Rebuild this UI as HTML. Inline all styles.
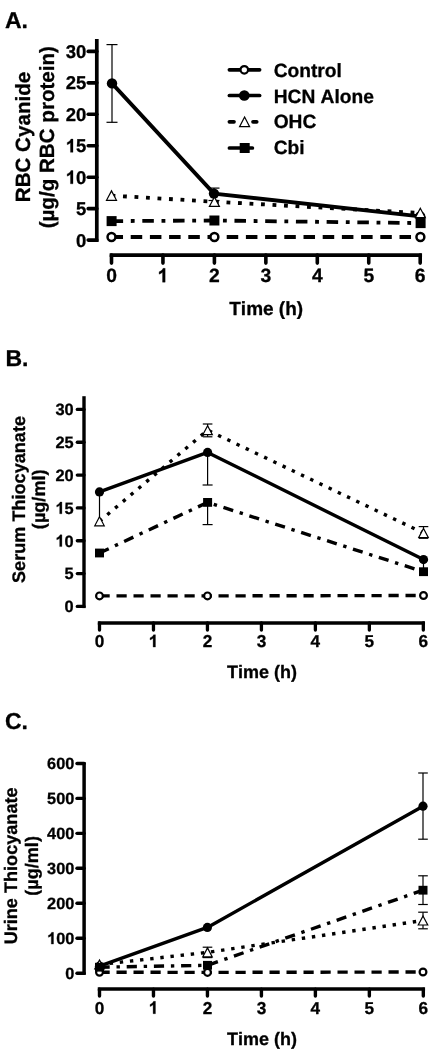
<!DOCTYPE html>
<html><head><meta charset="utf-8"><title>Figure</title>
<style>html,body{margin:0;padding:0;background:#fff;}svg{display:block;will-change:transform;}text{font-family:'Liberation Sans', sans-serif;font-weight:bold;fill:#000;stroke:#000;stroke-width:0.3px;stroke-linejoin:round;font-kerning:none;text-rendering:geometricPrecision;}</style>
</head><body>
<svg width="444" height="1050" viewBox="0 0 444 1050">
<defs><filter id="soft" filterUnits="userSpaceOnUse" x="0" y="0" width="444" height="1050" color-interpolation-filters="sRGB"><feGaussianBlur stdDeviation="0.37"/></filter></defs>
<rect x="0" y="0" width="444" height="1050" fill="#fff"/>
<g filter="url(#soft)">
<!-- Panel A -->
<line x1="96.80" y1="39.00" x2="96.80" y2="242.00" stroke="#000" stroke-width="3.7"/>
<line x1="88.20" y1="240.10" x2="96.80" y2="240.10" stroke="#000" stroke-width="3.6" stroke-linecap="round"/>
<text x="76.01" y="246.72" font-size="18.5">0</text>
<line x1="88.20" y1="208.65" x2="96.80" y2="208.65" stroke="#000" stroke-width="3.6" stroke-linecap="round"/>
<text x="76.01" y="215.27" font-size="18.5">5</text>
<line x1="88.20" y1="177.20" x2="96.80" y2="177.20" stroke="#000" stroke-width="3.6" stroke-linecap="round"/>
<path d="M806 0H525V1059Q371 915 162 846V1101Q272 1137 401 1237.5Q530 1338 578 1472H806Z" transform="translate(65.72 183.82) scale(0.00903 -0.00903)" fill="#000" stroke="#000" stroke-width="33.2" stroke-linejoin="round"/>
<text x="76.01" y="183.82" font-size="18.5">0</text>
<line x1="88.20" y1="145.75" x2="96.80" y2="145.75" stroke="#000" stroke-width="3.6" stroke-linecap="round"/>
<path d="M806 0H525V1059Q371 915 162 846V1101Q272 1137 401 1237.5Q530 1338 578 1472H806Z" transform="translate(65.72 152.37) scale(0.00903 -0.00903)" fill="#000" stroke="#000" stroke-width="33.2" stroke-linejoin="round"/>
<text x="76.01" y="152.37" font-size="18.5">5</text>
<line x1="88.20" y1="114.30" x2="96.80" y2="114.30" stroke="#000" stroke-width="3.6" stroke-linecap="round"/>
<text x="65.72" y="120.92" font-size="18.5">2</text>
<text x="76.01" y="120.92" font-size="18.5">0</text>
<line x1="88.20" y1="82.85" x2="96.80" y2="82.85" stroke="#000" stroke-width="3.6" stroke-linecap="round"/>
<text x="65.72" y="89.47" font-size="18.5">2</text>
<text x="76.01" y="89.47" font-size="18.5">5</text>
<line x1="88.20" y1="51.40" x2="96.80" y2="51.40" stroke="#000" stroke-width="3.6" stroke-linecap="round"/>
<text x="65.72" y="58.02" font-size="18.5">3</text>
<text x="76.01" y="58.02" font-size="18.5">0</text>
<line x1="109.65" y1="255.10" x2="422.05" y2="255.10" stroke="#000" stroke-width="3.7"/>
<line x1="111.50" y1="255.10" x2="111.50" y2="263.10" stroke="#000" stroke-width="3.6" stroke-linecap="round"/>
<text x="106.13" y="282.20" font-size="19.3">0</text>
<line x1="162.95" y1="255.10" x2="162.95" y2="263.10" stroke="#000" stroke-width="3.6" stroke-linecap="round"/>
<path d="M806 0H525V1059Q371 915 162 846V1101Q272 1137 401 1237.5Q530 1338 578 1472H806Z" transform="translate(157.58 282.20) scale(0.00942 -0.00942)" fill="#000" stroke="#000" stroke-width="31.8" stroke-linejoin="round"/>
<line x1="214.40" y1="255.10" x2="214.40" y2="263.10" stroke="#000" stroke-width="3.6" stroke-linecap="round"/>
<text x="209.03" y="282.20" font-size="19.3">2</text>
<line x1="265.85" y1="255.10" x2="265.85" y2="263.10" stroke="#000" stroke-width="3.6" stroke-linecap="round"/>
<text x="260.48" y="282.20" font-size="19.3">3</text>
<line x1="317.30" y1="255.10" x2="317.30" y2="263.10" stroke="#000" stroke-width="3.6" stroke-linecap="round"/>
<text x="311.93" y="282.20" font-size="19.3">4</text>
<line x1="368.75" y1="255.10" x2="368.75" y2="263.10" stroke="#000" stroke-width="3.6" stroke-linecap="round"/>
<text x="363.38" y="282.20" font-size="19.3">5</text>
<line x1="420.20" y1="255.10" x2="420.20" y2="263.10" stroke="#000" stroke-width="3.6" stroke-linecap="round"/>
<text x="414.83" y="282.20" font-size="19.3">6</text>
<text x="266.20" y="314.80" font-size="19" text-anchor="middle">Time (h)</text>
<text x="29.60" y="137.00" font-size="20.6" text-anchor="middle" transform="rotate(-90 29.60 137.00)">RBC Cyanide</text>
<text x="54.00" y="137.20" font-size="20.6" text-anchor="middle" transform="rotate(-90 54.00 137.20)">(µg/g RBC protein)</text>
<text x="4.90" y="27.80" font-size="23" text-anchor="start">A.</text>
<polyline points="111.50,237.00 214.40,237.00 420.40,237.00" fill="none" stroke="#000" stroke-width="3.8" stroke-linejoin="round" stroke-dasharray="11.52 7.68"/>
<circle cx="111.50" cy="237.00" r="3.95" fill="#fff" stroke="#000" stroke-width="2.5"/>
<circle cx="214.40" cy="237.00" r="3.95" fill="#fff" stroke="#000" stroke-width="2.5"/>
<circle cx="420.40" cy="237.00" r="3.95" fill="#fff" stroke="#000" stroke-width="2.5"/>
<polyline points="112.00,83.40 214.00,193.60 420.20,216.40" fill="none" stroke="#000" stroke-width="3.8" stroke-linejoin="round"/>
<line x1="112.00" y1="44.60" x2="112.00" y2="122.30" stroke="#000" stroke-width="1.2"/>
<line x1="106.50" y1="44.60" x2="117.50" y2="44.60" stroke="#000" stroke-width="1.2"/>
<line x1="106.50" y1="122.30" x2="117.50" y2="122.30" stroke="#000" stroke-width="1.2"/>
<line x1="214.00" y1="188.10" x2="214.00" y2="200.50" stroke="#000" stroke-width="1.2"/>
<line x1="208.50" y1="188.10" x2="219.50" y2="188.10" stroke="#000" stroke-width="1.2"/>
<line x1="208.50" y1="200.50" x2="219.50" y2="200.50" stroke="#000" stroke-width="1.2"/>
<circle cx="112.00" cy="83.40" r="5.2" fill="#000"/>
<circle cx="214.00" cy="193.60" r="5.2" fill="#000"/>
<circle cx="420.20" cy="216.40" r="5.2" fill="#000"/>
<polyline points="111.50,195.60 214.40,201.70 420.30,213.00" fill="none" stroke="#000" stroke-width="3.8" stroke-linejoin="round" stroke-dasharray="3.84 7.68"/>
<polygon points="111.50,190.90 106.50,200.30 116.50,200.30" fill="#fff" stroke="#000" stroke-width="1.2" stroke-linejoin="miter"/>
<polygon points="214.40,197.00 209.40,206.40 219.40,206.40" fill="#fff" stroke="#000" stroke-width="1.2" stroke-linejoin="miter"/>
<polygon points="420.30,208.30 415.30,217.70 425.30,217.70" fill="#fff" stroke="#000" stroke-width="1.2" stroke-linejoin="miter"/>
<polyline points="111.60,221.10 214.40,220.50 420.60,223.10" fill="none" stroke="#000" stroke-width="3.8" stroke-linejoin="round" stroke-dasharray="11.52 7.68 3.84 7.68"/>
<rect x="106.60" y="216.10" width="10" height="10" fill="#000"/>
<rect x="209.40" y="215.50" width="10" height="10" fill="#000"/>
<rect x="415.60" y="218.10" width="10" height="10" fill="#000"/>
<!-- Legend -->
<line x1="229.40" y1="69.80" x2="259.60" y2="69.80" stroke="#000" stroke-width="3.7" stroke-linecap="round"/>
<circle cx="244.30" cy="69.80" r="3.75" fill="#fff" stroke="#000" stroke-width="2.2"/>
<line x1="229.40" y1="95.50" x2="259.60" y2="95.50" stroke="#000" stroke-width="3.7" stroke-linecap="round"/>
<circle cx="244.30" cy="95.50" r="5.3" fill="#000"/>
<line x1="229.40" y1="121.80" x2="234.00" y2="121.80" stroke="#000" stroke-width="3.7" stroke-linecap="round"/>
<line x1="253.00" y1="121.80" x2="256.70" y2="121.80" stroke="#000" stroke-width="3.7" stroke-linecap="round"/>
<polygon points="244.60,117.00 239.60,126.60 249.60,126.60" fill="#fff" stroke="#000" stroke-width="1.2" stroke-linejoin="miter"/>
<line x1="229.40" y1="148.00" x2="252.40" y2="148.00" stroke="#000" stroke-width="3.7" stroke-linecap="round"/>
<rect x="239.70" y="143.00" width="10" height="10" fill="#000"/>
<text x="273.70" y="77.00" font-size="19.2" text-anchor="start">Control</text>
<text x="273.70" y="102.67" font-size="19.2" text-anchor="start">HCN Alone</text>
<text x="273.70" y="128.34" font-size="19.2" text-anchor="start">OHC</text>
<text x="273.70" y="154.01" font-size="19.2" text-anchor="start">Cbi</text>
<!-- Panel B -->
<line x1="84.00" y1="396.20" x2="84.00" y2="608.10" stroke="#000" stroke-width="3.4"/>
<line x1="77.30" y1="606.40" x2="84.00" y2="606.40" stroke="#000" stroke-width="3.3" stroke-linecap="round"/>
<text x="64.58" y="612.27" font-size="16.4">0</text>
<line x1="77.30" y1="573.57" x2="84.00" y2="573.57" stroke="#000" stroke-width="3.3" stroke-linecap="round"/>
<text x="64.58" y="579.45" font-size="16.4">5</text>
<line x1="77.30" y1="540.75" x2="84.00" y2="540.75" stroke="#000" stroke-width="3.3" stroke-linecap="round"/>
<path d="M806 0H525V1059Q371 915 162 846V1101Q272 1137 401 1237.5Q530 1338 578 1472H806Z" transform="translate(55.46 546.62) scale(0.00801 -0.00801)" fill="#000" stroke="#000" stroke-width="37.5" stroke-linejoin="round"/>
<text x="64.58" y="546.62" font-size="16.4">0</text>
<line x1="77.30" y1="507.92" x2="84.00" y2="507.92" stroke="#000" stroke-width="3.3" stroke-linecap="round"/>
<path d="M806 0H525V1059Q371 915 162 846V1101Q272 1137 401 1237.5Q530 1338 578 1472H806Z" transform="translate(55.46 513.80) scale(0.00801 -0.00801)" fill="#000" stroke="#000" stroke-width="37.5" stroke-linejoin="round"/>
<text x="64.58" y="513.80" font-size="16.4">5</text>
<line x1="77.30" y1="475.10" x2="84.00" y2="475.10" stroke="#000" stroke-width="3.3" stroke-linecap="round"/>
<text x="55.46" y="480.97" font-size="16.4">2</text>
<text x="64.58" y="480.97" font-size="16.4">0</text>
<line x1="77.30" y1="442.27" x2="84.00" y2="442.27" stroke="#000" stroke-width="3.3" stroke-linecap="round"/>
<text x="55.46" y="448.15" font-size="16.4">2</text>
<text x="64.58" y="448.15" font-size="16.4">5</text>
<line x1="77.30" y1="409.45" x2="84.00" y2="409.45" stroke="#000" stroke-width="3.3" stroke-linecap="round"/>
<text x="55.46" y="415.32" font-size="16.4">3</text>
<text x="64.58" y="415.32" font-size="16.4">0</text>
<line x1="97.80" y1="623.00" x2="425.02" y2="623.00" stroke="#000" stroke-width="3.4"/>
<line x1="99.50" y1="623.00" x2="99.50" y2="630.00" stroke="#000" stroke-width="3.3" stroke-linecap="round"/>
<text x="94.72" y="647.10" font-size="17.2">0</text>
<line x1="153.47" y1="623.00" x2="153.47" y2="630.00" stroke="#000" stroke-width="3.3" stroke-linecap="round"/>
<path d="M806 0H525V1059Q371 915 162 846V1101Q272 1137 401 1237.5Q530 1338 578 1472H806Z" transform="translate(148.69 647.10) scale(0.00840 -0.00840)" fill="#000" stroke="#000" stroke-width="35.7" stroke-linejoin="round"/>
<line x1="207.44" y1="623.00" x2="207.44" y2="630.00" stroke="#000" stroke-width="3.3" stroke-linecap="round"/>
<text x="202.66" y="647.10" font-size="17.2">2</text>
<line x1="261.41" y1="623.00" x2="261.41" y2="630.00" stroke="#000" stroke-width="3.3" stroke-linecap="round"/>
<text x="256.63" y="647.10" font-size="17.2">3</text>
<line x1="315.38" y1="623.00" x2="315.38" y2="630.00" stroke="#000" stroke-width="3.3" stroke-linecap="round"/>
<text x="310.60" y="647.10" font-size="17.2">4</text>
<line x1="369.35" y1="623.00" x2="369.35" y2="630.00" stroke="#000" stroke-width="3.3" stroke-linecap="round"/>
<text x="364.57" y="647.10" font-size="17.2">5</text>
<line x1="423.32" y1="623.00" x2="423.32" y2="630.00" stroke="#000" stroke-width="3.3" stroke-linecap="round"/>
<text x="418.54" y="647.10" font-size="17.2">6</text>
<text x="262.10" y="677.70" font-size="18" text-anchor="middle">Time (h)</text>
<text x="24.50" y="499.50" font-size="18.1" text-anchor="middle" transform="rotate(-90 24.50 499.50)">Serum Thiocyanate</text>
<text x="45.20" y="499.30" font-size="18.1" text-anchor="middle" transform="rotate(-90 45.20 499.30)">(µg/ml)</text>
<text x="5.40" y="366.20" font-size="23" text-anchor="start">B.</text>
<polyline points="99.50,595.90 207.50,595.90 423.50,595.50" fill="none" stroke="#000" stroke-width="3.4" stroke-linejoin="round" stroke-dasharray="10.20 6.80"/>
<circle cx="99.50" cy="595.90" r="3.4" fill="#fff" stroke="#000" stroke-width="2.2"/>
<circle cx="207.50" cy="595.90" r="3.4" fill="#fff" stroke="#000" stroke-width="2.2"/>
<circle cx="423.50" cy="595.50" r="3.4" fill="#fff" stroke="#000" stroke-width="2.2"/>
<polyline points="99.50,491.90 207.60,452.40 423.50,559.60" fill="none" stroke="#000" stroke-width="3.4" stroke-linejoin="round"/>
<line x1="207.60" y1="452.00" x2="207.60" y2="485.00" stroke="#000" stroke-width="1.2"/>
<line x1="202.60" y1="485.00" x2="212.60" y2="485.00" stroke="#000" stroke-width="1.2"/>
<circle cx="99.50" cy="491.90" r="4.6" fill="#000"/>
<circle cx="207.60" cy="452.40" r="4.6" fill="#000"/>
<circle cx="423.50" cy="559.60" r="4.6" fill="#000"/>
<polyline points="99.50,521.30 207.60,430.20 423.50,533.00" fill="none" stroke="#000" stroke-width="3.4" stroke-linejoin="round" stroke-dasharray="3.40 6.80"/>
<line x1="99.50" y1="492.00" x2="99.50" y2="521.00" stroke="#000" stroke-width="1.2"/>
<line x1="207.60" y1="424.00" x2="207.60" y2="436.80" stroke="#000" stroke-width="1.2"/>
<line x1="202.80" y1="424.00" x2="212.40" y2="424.00" stroke="#000" stroke-width="1.2"/>
<line x1="202.80" y1="436.80" x2="212.40" y2="436.80" stroke="#000" stroke-width="1.2"/>
<line x1="423.50" y1="526.60" x2="423.50" y2="538.30" stroke="#000" stroke-width="1.2"/>
<line x1="418.70" y1="526.60" x2="428.30" y2="526.60" stroke="#000" stroke-width="1.2"/>
<line x1="418.70" y1="538.30" x2="428.30" y2="538.30" stroke="#000" stroke-width="1.2"/>
<polygon points="99.50,516.80 94.75,525.80 104.25,525.80" fill="#fff" stroke="#000" stroke-width="1.2" stroke-linejoin="miter"/>
<polygon points="207.60,425.70 202.85,434.70 212.35,434.70" fill="#fff" stroke="#000" stroke-width="1.2" stroke-linejoin="miter"/>
<polygon points="423.50,528.50 418.75,537.50 428.25,537.50" fill="#fff" stroke="#000" stroke-width="1.2" stroke-linejoin="miter"/>
<polyline points="99.50,553.00 207.60,502.40 423.50,571.70" fill="none" stroke="#000" stroke-width="3.4" stroke-linejoin="round" stroke-dasharray="10.20 6.80 3.40 6.80"/>
<line x1="207.60" y1="502.00" x2="207.60" y2="524.60" stroke="#000" stroke-width="1.2"/>
<line x1="202.60" y1="524.60" x2="212.60" y2="524.60" stroke="#000" stroke-width="1.2"/>
<line x1="423.50" y1="560.50" x2="423.50" y2="571.00" stroke="#000" stroke-width="1.2"/>
<line x1="419.00" y1="560.50" x2="428.00" y2="560.50" stroke="#000" stroke-width="1.2"/>
<rect x="95.00" y="548.60" width="9" height="8.8" fill="#000"/>
<rect x="203.10" y="498.00" width="9" height="8.8" fill="#000"/>
<rect x="419.00" y="567.30" width="9" height="8.8" fill="#000"/>
<!-- Panel C -->
<line x1="84.10" y1="762.30" x2="84.10" y2="974.90" stroke="#000" stroke-width="3.5"/>
<line x1="77.00" y1="973.20" x2="84.10" y2="973.20" stroke="#000" stroke-width="3.4" stroke-linecap="round"/>
<text x="65.23" y="979.04" font-size="16.3">0</text>
<line x1="77.00" y1="938.24" x2="84.10" y2="938.24" stroke="#000" stroke-width="3.4" stroke-linecap="round"/>
<path d="M806 0H525V1059Q371 915 162 846V1101Q272 1137 401 1237.5Q530 1338 578 1472H806Z" transform="translate(47.10 944.08) scale(0.00796 -0.00796)" fill="#000" stroke="#000" stroke-width="37.7" stroke-linejoin="round"/>
<text x="56.17" y="944.08" font-size="16.3">0</text>
<text x="65.23" y="944.08" font-size="16.3">0</text>
<line x1="77.00" y1="903.28" x2="84.10" y2="903.28" stroke="#000" stroke-width="3.4" stroke-linecap="round"/>
<text x="47.10" y="909.12" font-size="16.3">2</text>
<text x="56.17" y="909.12" font-size="16.3">0</text>
<text x="65.23" y="909.12" font-size="16.3">0</text>
<line x1="77.00" y1="868.32" x2="84.10" y2="868.32" stroke="#000" stroke-width="3.4" stroke-linecap="round"/>
<text x="47.10" y="874.16" font-size="16.3">3</text>
<text x="56.17" y="874.16" font-size="16.3">0</text>
<text x="65.23" y="874.16" font-size="16.3">0</text>
<line x1="77.00" y1="833.36" x2="84.10" y2="833.36" stroke="#000" stroke-width="3.4" stroke-linecap="round"/>
<text x="47.10" y="839.20" font-size="16.3">4</text>
<text x="56.17" y="839.20" font-size="16.3">0</text>
<text x="65.23" y="839.20" font-size="16.3">0</text>
<line x1="77.00" y1="798.40" x2="84.10" y2="798.40" stroke="#000" stroke-width="3.4" stroke-linecap="round"/>
<text x="47.10" y="804.24" font-size="16.3">5</text>
<text x="56.17" y="804.24" font-size="16.3">0</text>
<text x="65.23" y="804.24" font-size="16.3">0</text>
<line x1="77.00" y1="763.44" x2="84.10" y2="763.44" stroke="#000" stroke-width="3.4" stroke-linecap="round"/>
<text x="47.10" y="769.28" font-size="16.3">6</text>
<text x="56.17" y="769.28" font-size="16.3">0</text>
<text x="65.23" y="769.28" font-size="16.3">0</text>
<line x1="97.75" y1="989.10" x2="425.07" y2="989.10" stroke="#000" stroke-width="3.5"/>
<line x1="99.50" y1="989.10" x2="99.50" y2="996.10" stroke="#000" stroke-width="3.4" stroke-linecap="round"/>
<text x="94.72" y="1013.70" font-size="17.2">0</text>
<line x1="153.47" y1="989.10" x2="153.47" y2="996.10" stroke="#000" stroke-width="3.4" stroke-linecap="round"/>
<path d="M806 0H525V1059Q371 915 162 846V1101Q272 1137 401 1237.5Q530 1338 578 1472H806Z" transform="translate(148.69 1013.70) scale(0.00840 -0.00840)" fill="#000" stroke="#000" stroke-width="35.7" stroke-linejoin="round"/>
<line x1="207.44" y1="989.10" x2="207.44" y2="996.10" stroke="#000" stroke-width="3.4" stroke-linecap="round"/>
<text x="202.66" y="1013.70" font-size="17.2">2</text>
<line x1="261.41" y1="989.10" x2="261.41" y2="996.10" stroke="#000" stroke-width="3.4" stroke-linecap="round"/>
<text x="256.63" y="1013.70" font-size="17.2">3</text>
<line x1="315.38" y1="989.10" x2="315.38" y2="996.10" stroke="#000" stroke-width="3.4" stroke-linecap="round"/>
<text x="310.60" y="1013.70" font-size="17.2">4</text>
<line x1="369.35" y1="989.10" x2="369.35" y2="996.10" stroke="#000" stroke-width="3.4" stroke-linecap="round"/>
<text x="364.57" y="1013.70" font-size="17.2">5</text>
<line x1="423.32" y1="989.10" x2="423.32" y2="996.10" stroke="#000" stroke-width="3.4" stroke-linecap="round"/>
<text x="418.54" y="1013.70" font-size="17.2">6</text>
<text x="262.10" y="1044.70" font-size="18" text-anchor="middle">Time (h)</text>
<text x="17.20" y="865.90" font-size="18.1" text-anchor="middle" transform="rotate(-90 17.20 865.90)">Urine Thiocyanate</text>
<text x="38.50" y="865.90" font-size="18.1" text-anchor="middle" transform="rotate(-90 38.50 865.90)">(µg/ml)</text>
<text x="5.00" y="729.20" font-size="23" text-anchor="start">C.</text>
<polyline points="99.50,972.20 207.50,972.40 423.00,972.00" fill="none" stroke="#000" stroke-width="3.4" stroke-linejoin="round" stroke-dasharray="10.20 6.80"/>
<circle cx="99.50" cy="972.20" r="3.4" fill="#fff" stroke="#000" stroke-width="2.2"/>
<circle cx="207.50" cy="972.40" r="3.4" fill="#fff" stroke="#000" stroke-width="2.2"/>
<circle cx="423.00" cy="972.00" r="3.4" fill="#fff" stroke="#000" stroke-width="2.2"/>
<polyline points="99.50,966.20 207.40,927.40 423.00,806.20" fill="none" stroke="#000" stroke-width="3.4" stroke-linejoin="round"/>
<line x1="423.00" y1="773.00" x2="423.00" y2="839.20" stroke="#000" stroke-width="1.2"/>
<line x1="418.20" y1="773.00" x2="427.80" y2="773.00" stroke="#000" stroke-width="1.2"/>
<line x1="418.20" y1="839.20" x2="427.80" y2="839.20" stroke="#000" stroke-width="1.2"/>
<circle cx="99.50" cy="966.20" r="4.6" fill="#000"/>
<circle cx="207.40" cy="927.40" r="4.6" fill="#000"/>
<circle cx="423.00" cy="806.20" r="4.6" fill="#000"/>
<polyline points="99.50,964.50 207.50,952.40 423.00,920.50" fill="none" stroke="#000" stroke-width="3.4" stroke-linejoin="round" stroke-dasharray="3.40 6.80"/>
<line x1="207.50" y1="947.20" x2="207.50" y2="957.60" stroke="#000" stroke-width="1.2"/>
<line x1="202.70" y1="947.20" x2="212.30" y2="947.20" stroke="#000" stroke-width="1.2"/>
<line x1="202.70" y1="957.60" x2="212.30" y2="957.60" stroke="#000" stroke-width="1.2"/>
<line x1="423.00" y1="912.20" x2="423.00" y2="928.80" stroke="#000" stroke-width="1.2"/>
<line x1="418.20" y1="912.20" x2="427.80" y2="912.20" stroke="#000" stroke-width="1.2"/>
<line x1="418.20" y1="928.80" x2="427.80" y2="928.80" stroke="#000" stroke-width="1.2"/>
<polygon points="99.50,960.00 94.75,969.00 104.25,969.00" fill="#fff" stroke="#000" stroke-width="1.2" stroke-linejoin="miter"/>
<polygon points="207.50,947.90 202.75,956.90 212.25,956.90" fill="#fff" stroke="#000" stroke-width="1.2" stroke-linejoin="miter"/>
<polygon points="423.00,916.00 418.25,925.00 427.75,925.00" fill="#fff" stroke="#000" stroke-width="1.2" stroke-linejoin="miter"/>
<polyline points="99.50,967.20 207.50,965.30 423.00,890.20" fill="none" stroke="#000" stroke-width="3.4" stroke-linejoin="round" stroke-dasharray="10.20 6.80 3.40 6.80"/>
<line x1="423.00" y1="875.80" x2="423.00" y2="904.50" stroke="#000" stroke-width="1.2"/>
<line x1="418.20" y1="875.80" x2="427.80" y2="875.80" stroke="#000" stroke-width="1.2"/>
<line x1="418.20" y1="904.50" x2="427.80" y2="904.50" stroke="#000" stroke-width="1.2"/>
<rect x="95.00" y="962.80" width="9" height="8.8" fill="#000"/>
<rect x="203.00" y="960.90" width="9" height="8.8" fill="#000"/>
<rect x="418.50" y="885.80" width="9" height="8.8" fill="#000"/>
</g>
</svg></body></html>
